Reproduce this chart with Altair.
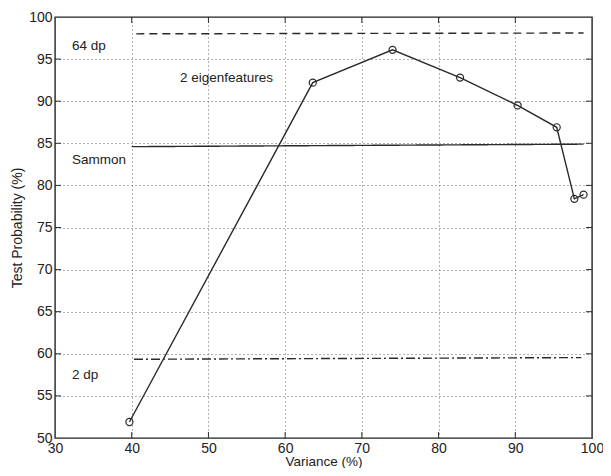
import altair as alt
import pandas as pd

# main curve
var_pct = [39.7, 63.6, 74.0, 82.8, 90.3, 95.4, 97.7, 98.9]
test_prob = [51.9, 92.2, 96.1, 92.8, 89.5, 86.9, 78.4, 78.9]

# reference lines
ref_names = ["64 dp", "64 dp", "Sammon", "Sammon", "2 dp", "2 dp"]
ref_x = [40.6, 98.9, 40.0, 98.9, 40.3, 98.6]
ref_y = [98.0, 98.1, 84.6, 84.9, 59.35, 59.55]

# annotations
ann_text = ["64 dp", "2 eigenfeatures", "Sammon", "2 dp"]
ann_x = [32.2, 46.3, 32.2, 32.2]
ann_y = [96.6, 92.7, 83.0, 57.5]

x_ticks = [30, 40, 50, 60, 70, 80, 90, 100]
y_ticks = [50, 55, 60, 65, 70, 75, 80, 85, 90, 95, 100]

FONT = "Liberation Sans"
INK = "#2a2a2a"
W, H = 537, 421

curve = pd.DataFrame({"x": var_pct, "y": test_prob})
refs = pd.DataFrame({"name": ref_names, "x": ref_x, "y": ref_y})
ann = pd.DataFrame({"t": ann_text, "x": ann_x, "y": ann_y})
xt = pd.DataFrame({"v": x_ticks[1:-1]})
yt = pd.DataFrame({"v": y_ticks[1:-1]})

xs = alt.Scale(domain=[30, 100], nice=False, zero=False)
ys = alt.Scale(domain=[50, 100], nice=False, zero=False)

X = alt.X("x:Q", scale=xs, axis=alt.Axis(
    values=x_ticks, title="Variance (%)", grid=True, gridDash=[1, 3],
    gridColor="#555", gridOpacity=0.9, tickSize=0, labelPadding=3,
    labelFont=FONT, labelFontSize=14, labelColor="#222", titleFont=FONT,
    titleFontSize=13.5, titleFontWeight="normal", titleColor="#222",
    titleBaseline="alphabetic", titleY=27,
    domain=False, labelFlush=False))
Y = alt.Y("y:Q", scale=ys, axis=alt.Axis(
    values=y_ticks, title="Test Probability (%)", grid=True, gridDash=[1, 3],
    gridColor="#555", gridOpacity=0.9, tickSize=0, labelPadding=3,
    labelFont=FONT, labelFontSize=14, labelColor="#222", titleFont=FONT,
    titleFontSize=14, titleFontWeight="normal", titleColor="#222",
    titlePadding=4, domain=False, labelFlush=False))

base = alt.Chart(curve).mark_line(color=INK, strokeWidth=1.4).encode(x=X, y=Y)
pts = alt.Chart(curve).mark_point(shape="circle", filled=False, color=INK,
                                  size=50, strokeWidth=1.2, opacity=1).encode(x="x:Q", y="y:Q")

def refline(name, dash):
    return alt.Chart(refs[refs.name == name]).mark_line(
        color=INK, strokeWidth=1.4, strokeDash=dash).encode(x="x:Q", y="y:Q")

l64 = refline("64 dp", [8, 5])
lsam = refline("Sammon", [1, 0])
l2 = refline("2 dp", [9, 3, 2, 3])

txt = alt.Chart(ann).mark_text(align="left", baseline="middle", font=FONT,
                               fontSize=13.5, color="#222").encode(
    x="x:Q", y="y:Q", text="t:N")

tick_len = 6
t_bot = alt.Chart(xt).mark_rule(color=INK, strokeWidth=1).encode(
    x="v:Q", y=alt.value(H), y2=alt.value(H - tick_len))
t_top = alt.Chart(xt).mark_rule(color=INK, strokeWidth=1).encode(
    x="v:Q", y=alt.value(0), y2=alt.value(tick_len))
t_left = alt.Chart(yt).mark_rule(color=INK, strokeWidth=1).encode(
    y="v:Q", x=alt.value(0), x2=alt.value(tick_len))
t_right = alt.Chart(yt).mark_rule(color=INK, strokeWidth=1).encode(
    y="v:Q", x=alt.value(W), x2=alt.value(W - tick_len))

chart = alt.layer(base, l64, lsam, l2, pts, txt, t_bot, t_top, t_left, t_right).properties(
    width=W, height=H,
    autosize=alt.AutoSizeParams(type="none"),
    padding={"left": 47, "top": 9, "right": 595 - 47 - W, "bottom": 460 - 9 - H},
    background="white",
).configure_view(stroke="#222", strokeWidth=1.4)

chart.save("out.html", embed_options={"renderer": "svg", "actions": False})
